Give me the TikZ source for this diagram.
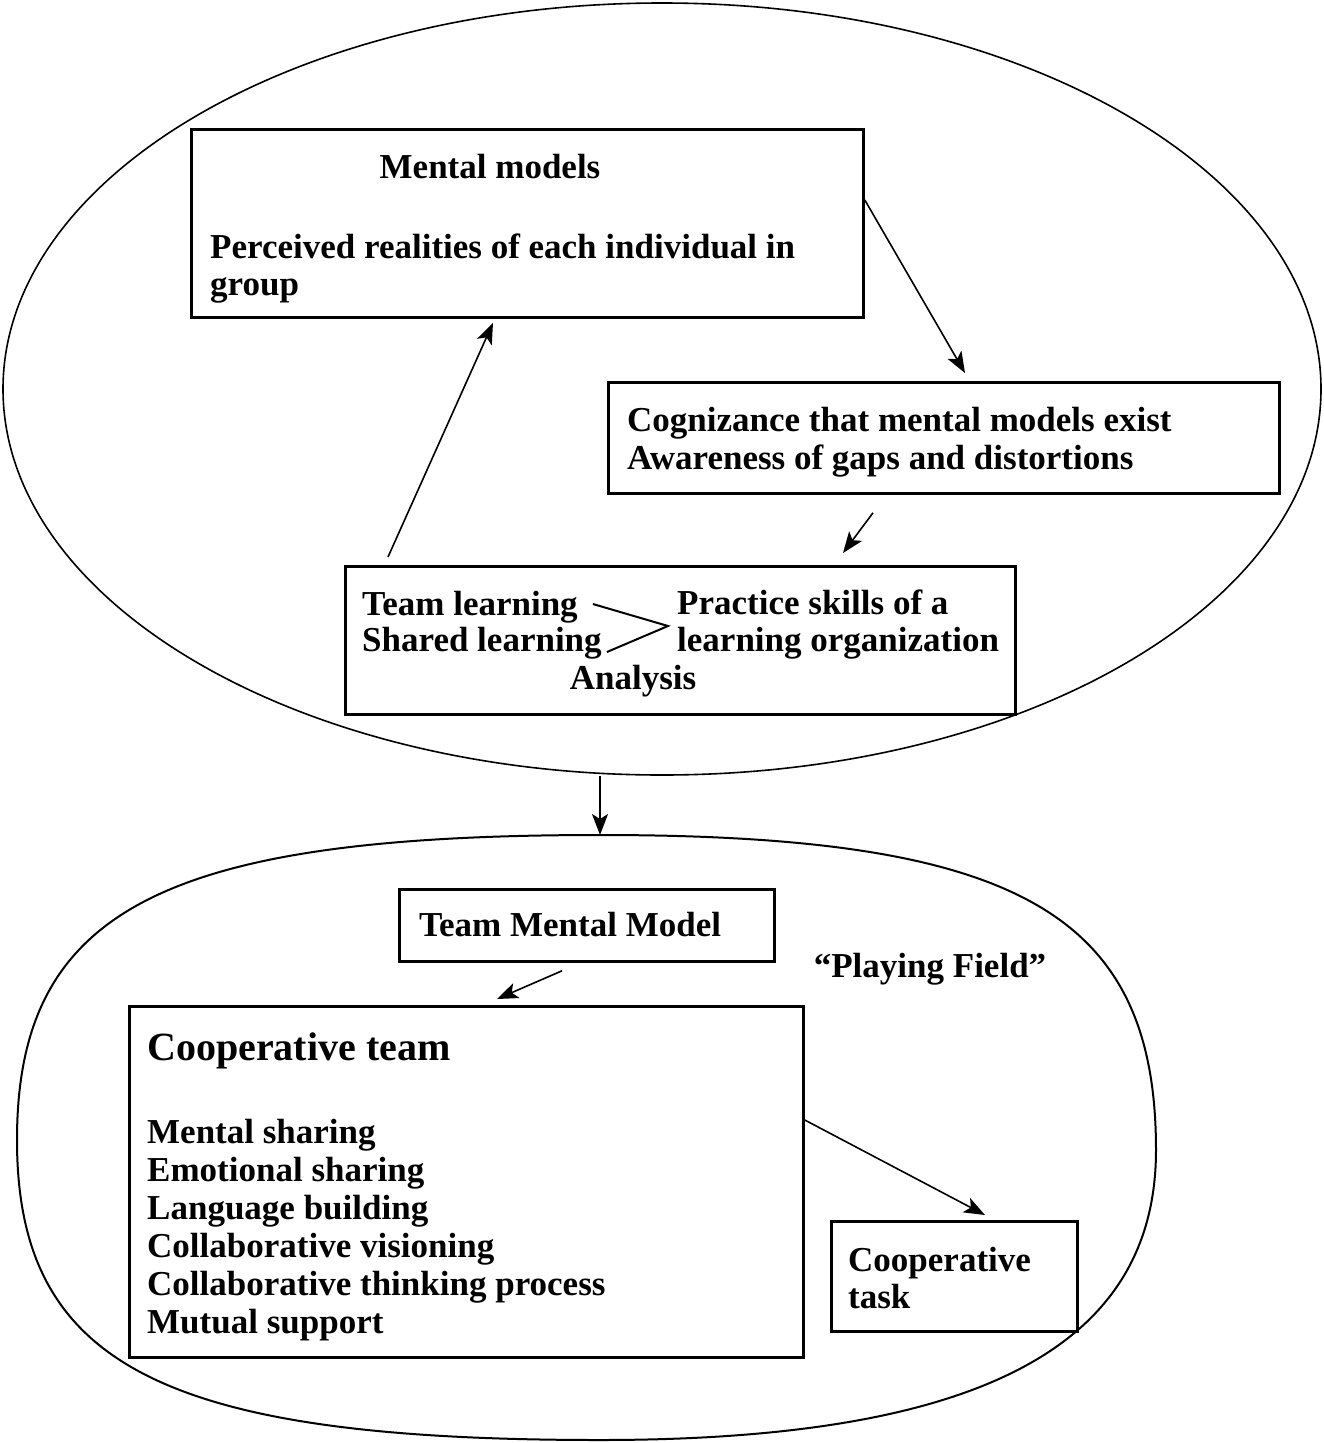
\documentclass[tikz,border=0pt]{standalone}
\usepackage{fontspec}
\setmainfont{Liberation Serif}
\usetikzlibrary{arrows.meta,shapes.geometric}
\tikzset{
  box/.style={draw,line width=2.8pt,inner sep=0pt,anchor=north west},
  txt/.style={inner sep=0pt,anchor=base west,font=\bfseries\fontsize{35}{38}\selectfont},
  link/.style={line width=1.6pt,-{Stealth[length=21pt,width=16pt,inset=5pt]}},
}
\begin{document}
\begin{tikzpicture}[x=1pt,y=-1pt]
\useasboundingbox (0,0) rectangle (1324,1443);
% upper part
\node[ellipse,draw,line width=1.6pt,inner sep=0pt,minimum width=1318pt,minimum height=772pt] (top) at (662,389) {};
\node[box,minimum width=672pt,minimum height=188pt] (mmbox) at (190,128) {};
\node[txt,anchor=base] (mmtitle) at (490,178) {Mental models};
\node[txt] (perc) at (210,258) {Perceived realities of each individual in};
\node[txt] (grp) at (210,295) {group};
\node[box,minimum width=671pt,minimum height=111pt] (cogbox) at (607,381) {};
\node[txt] (cog) at (627,431) {Cognizance that mental models exist};
\node[txt] (aware) at (627,469) {Awareness of gaps and distortions};
\node[box,minimum width=670pt,minimum height=148pt] (learnbox) at (344,565) {};
\node[txt] (teamtxt) at (362,615) {Team learning};
\node[txt] (sharedtxt) at (362,651) {Shared learning};
\node[txt] (practice) at (677,614) {Practice skills of a};
\node[txt] (orgtxt) at (677,651) {learning organization};
\node[txt,anchor=base] (analysis) at (633,689) {Analysis};
\coordinate (gt) at (668,626);
\draw[line width=2pt] ([shift={(15,-11)}]teamtxt.base east) -- (gt) -- ([shift={(5,1)}]sharedtxt.base east);
\draw[link] ([shift={(44,-8)}]learnbox.north west) -- ([shift={(303,4)}]mmbox.south west);
\draw[link] ([shift={(0,72)}]mmbox.north east) -- ([shift={(358,-8)}]cogbox.north west);
\draw[link] ([shift={(266,18)}]cogbox.south west) -- ([shift={(499,-12)}]learnbox.north west);
% lower part
\coordinate (fld) at (600,835);
\draw[link] (fld |- top.south) -- (fld);
\draw[line width=2pt] (fld) .. controls (1017,835) and (1156,913) .. (1156,1150)
  .. controls (1156,1347) and (978,1440) .. (600,1440)
  .. controls (163,1440) and (17,1365) .. (17,1140)
  .. controls (17,910) and (163,835) .. (fld) -- cycle;
\node[box,minimum width=375pt,minimum height=72pt] (tmmbox) at (398,888) {};
\node[txt,anchor=base] (tmm) at (570,936) {Team Mental Model};
\node[txt,anchor=base] (field) at (930,977) {“Playing Field”};
\node[box,minimum width=674pt,minimum height=351pt] (coopbox) at (128,1005) {};
\node[txt,font=\bfseries\fontsize{40}{44}\selectfont] (cooptitle) at (147,1060) {Cooperative team};
\foreach \t [count=\i] in {Mental sharing,Emotional sharing,Language building,Collaborative visioning,Collaborative thinking process,Mutual support}
  \node[txt] (item\i) at (147,{1143+38*(\i-1)}) {\t};
\node[box,minimum width=246pt,minimum height=110pt] (taskbox) at (830,1220) {};
\node[txt] (task1) at (848,1271) {Cooperative};
\node[txt] (task2) at (848,1308) {task};
\draw[link] ([shift={(164,8)}]tmmbox.south west) -- ([shift={(369,-6)}]coopbox.north west);
\draw[link] ([shift={(0,115)}]coopbox.north east) -- ([shift={(155,-5)}]taskbox.north west);
\end{tikzpicture}
\end{document}
